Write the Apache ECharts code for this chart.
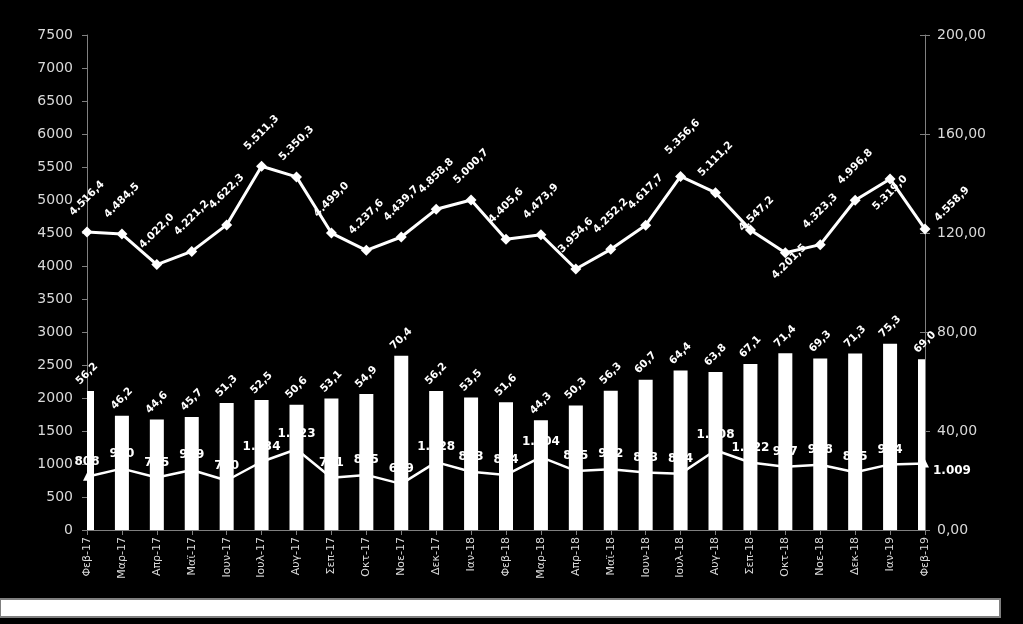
<!DOCTYPE html>
<html><head><meta charset="utf-8">
<script src="https://cdn.jsdelivr.net/npm/echarts@6/dist/echarts.min.js"></script>
<style>html,body{margin:0;padding:0;background:#000;}#c{width:1023px;height:624px;}</style>
</head><body><div id="c"></div>
<script>
const categories = ['Φεβ-17','Μαρ-17','Απρ-17','Μαϊ-17','Ιουν-17','Ιουλ-17','Αυγ-17','Σεπ-17','Οκτ-17','Νοε-17','Δεκ-17','Ιαν-18','Φεβ-18','Μαρ-18','Απρ-18','Μαϊ-18','Ιουν-18','Ιουλ-18','Αυγ-18','Σεπ-18','Οκτ-18','Νοε-18','Δεκ-18','Ιαν-19','Φεβ-19'];
const topLine = [4516.4, 4484.5, 4022.0, 4221.2, 4622.3, 5511.3, 5350.3, 4499.0, 4237.6, 4439.7, 4858.8, 5000.7, 4405.6, 4473.9, 3954.6, 4252.2, 4617.7, 5356.6, 5111.2, 4547.2, 4201.5, 4323.3, 4996.8, 5319.0, 4558.9];
const barValues = [56.2, 46.2, 44.6, 45.7, 51.3, 52.5, 50.6, 53.1, 54.9, 70.4, 56.2, 53.5, 51.6, 44.3, 50.3, 56.3, 60.7, 64.4, 63.8, 67.1, 71.4, 69.3, 71.3, 75.3, 69.0];
const bottomLine = [808, 930, 795, 909, 750, 1034, 1223, 791, 835, 699, 1028, 883, 834, 1104, 895, 922, 873, 854, 1208, 1022, 957, 988, 875, 994, 1009];
const leftTicks = {min: 0, max: 7500, interval: 500};
const rightTicks = {min: 0, max: 200, interval: 40};

function grp(intStr){ return intStr.replace(/\B(?=(\d{3})+(?!\d))/g, '.'); }
function fmtDec(v, d){ const s = v.toFixed(d).split('.'); return grp(s[0]) + (d ? ',' + s[1] : ''); }

const FONT = 'DejaVu Sans';
const BAR_W = 14;
// per-point label placement tweaks for the top line (index -> label position)
const topLabelPos = {17: [7.5, -34], 19: [11.5, -10.5], 20: [9.5, 14.5], 23: [5.5, 19.5], 24: [32.5, -19.5]};
const topData = topLine.map((v, i) => topLabelPos[i] ? {value: v, label: {position: topLabelPos[i]}} : v);
const bottomData = bottomLine.map((v, i) => i === bottomLine.length - 1 ?
  {value: v, label: {position: 'right', distance: 4, offset: [0, 7], align: 'left', verticalAlign: 'middle'}} : v);
const barCustomData = barValues.map((v, i) => [i, v]);

function renderBar(params, api) {
  const cs = params.coordSys;
  const top = api.coord([api.value(0), api.value(1)]);
  const base = api.coord([api.value(0), 0]);
  let x0 = top[0] - BAR_W / 2, x1 = top[0] + BAR_W / 2;
  x0 = Math.max(x0, cs.x); x1 = Math.min(x1, cs.x + cs.width);
  return {type: 'rect', shape: {x: x0, y: top[1], width: x1 - x0, height: base[1] - top[1]},
          style: {fill: '#ffffff'}};
}

const chart = echarts.init(document.getElementById('c'), null, {renderer: 'canvas'});
chart.setOption({
  backgroundColor: '#000',
  animation: false,
  grid: {left: 87, right: 98, top: 35, bottom: 94},
  xAxis: {
    type: 'category', data: categories, boundaryGap: false,
    axisLine: {lineStyle: {color: '#808080', width: 1}},
    axisTick: {alignWithLabel: true, length: 5, lineStyle: {color: '#808080'}},
    axisLabel: {rotate: 90, color: '#d9d9d9', fontFamily: FONT, fontSize: 11, margin: 7, interval: 0}
  },
  yAxis: [
    {type: 'value', min: leftTicks.min, max: leftTicks.max, interval: leftTicks.interval,
     splitLine: {show: false},
     axisLine: {show: true, lineStyle: {color: '#808080'}},
     axisTick: {show: true, length: 5, lineStyle: {color: '#808080'}},
     axisLabel: {color: '#d9d9d9', fontFamily: FONT, fontSize: 14, margin: 14, formatter: v => String(v)}},
    {type: 'value', min: rightTicks.min, max: rightTicks.max, interval: rightTicks.interval,
     splitLine: {show: false},
     axisLine: {show: true, lineStyle: {color: '#808080'}},
     axisTick: {show: true, length: 5, lineStyle: {color: '#808080'}},
     axisLabel: {color: '#d9d9d9', fontFamily: FONT, fontSize: 14, margin: 12,
       formatter: v => v.toFixed(2).replace('.', ',')}},
    {type: 'value', position: 'right', min: rightTicks.min, max: rightTicks.max, interval: rightTicks.interval,
     splitLine: {show: false}, axisLine: {show: false},
     axisTick: {show: true, inside: true, length: 5, lineStyle: {color: '#808080'}},
     axisLabel: {show: false}}
  ],
  graphic: [{type: 'rect', shape: {x: 0, y: 599, width: 1000, height: 18},
    style: {fill: '#ffffff', stroke: '#7f7f7f', lineWidth: 2}}],
  series: [
    {name: 'bottom', type: 'line', yAxisIndex: 0, data: bottomData, z: 2,
     symbol: 'triangle', symbolSize: 8,
     lineStyle: {color: '#fff', width: 2.5}, itemStyle: {color: '#fff'},
     label: {show: true, position: 'top', distance: 5, color: '#fff', fontFamily: FONT,
       fontWeight: 'bold', fontSize: 12, formatter: p => fmtDec(p.value, 0)}},
    {name: 'barsShape', type: 'custom', yAxisIndex: 1, data: barCustomData, z: 3,
     renderItem: renderBar, encode: {x: 0, y: 1}},
    {name: 'barsLabel', type: 'bar', yAxisIndex: 1, data: barValues, z: 3, barWidth: BAR_W,
     itemStyle: {color: 'rgba(0,0,0,0)'},
     label: {show: true, position: 'top', distance: 17, rotate: 45, align: 'center', verticalAlign: 'middle',
       color: '#fff', fontFamily: FONT, fontWeight: 'bold', fontSize: 10.5,
       formatter: p => fmtDec(p.value, 1)}},
    {name: 'top', type: 'line', yAxisIndex: 0, data: topData, z: 4,
     symbol: 'diamond', symbolSize: 11,
     lineStyle: {color: '#fff', width: 3}, itemStyle: {color: '#fff'},
     label: {show: true, position: [5.5, -28], rotate: 45, align: 'center', verticalAlign: 'middle',
       color: '#fff', fontFamily: FONT, fontWeight: 'bold', fontSize: 10.5,
       formatter: p => fmtDec(p.value, 1)}}
  ]
});
</script></body></html>
